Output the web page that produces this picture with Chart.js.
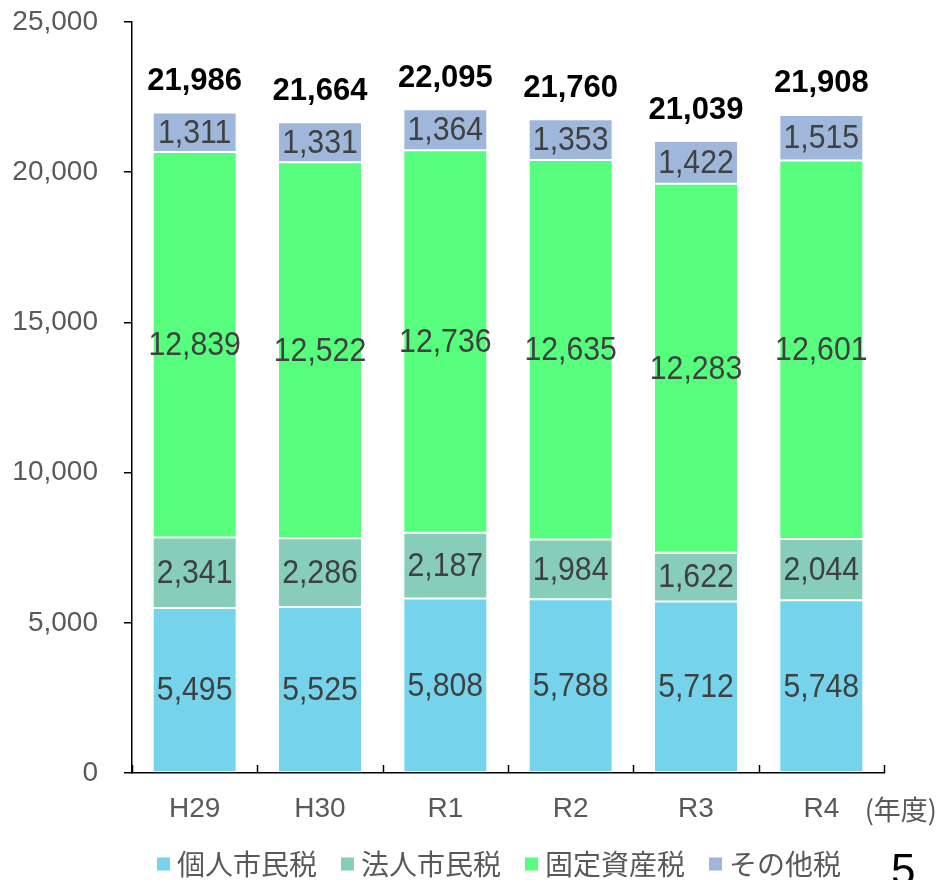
<!DOCTYPE html>
<html lang="ja">
<head>
<meta charset="utf-8">
<script src="https://cdn.jsdelivr.net/npm/chart.js@4.4.0/dist/chart.umd.min.js"></script>
<style>
html, body { margin: 0; padding: 0; background: #fff; }
#wrap { position: relative; width: 939px; height: 880px; }
</style>
</head>
<body>
<div id="wrap"><canvas id="taxChart" width="939" height="880"></canvas></div>
<script>
// datos del gráfico (年度別 市税収入)
const years = ['H29', 'H30', 'R1', 'R2', 'R3', 'R4'];
const kojin = [5495, 5525, 5808, 5788, 5712, 5748];       // 個人市民税
const hojin = [2341, 2286, 2187, 1984, 1622, 2044];       // 法人市民税
const kotei = [12839, 12522, 12736, 12635, 12283, 12601]; // 固定資産税
const sonota = [1311, 1331, 1364, 1353, 1422, 1515];      // その他税
const totals = [21986, 21664, 22095, 21760, 21039, 21908];
const seriesNames = ['個人市民税', '法人市民税', '固定資産税', 'その他税'];
const yTicks = [0, 5000, 10000, 15000, 20000, 25000];

const COLORS = {
    kojin: '#75d4ec',
    hojin: '#86ceb9',
    kotei: '#57fe7d',
    sonota: '#a0b7dc',
    texto: '#404040',
    eje: '#595959'
};

const FONT = '"Liberation Sans", Arial, sans-serif';
const FONT_JP = '"Noto Sans CJK JP", "Noto Sans", sans-serif';

const fmt = v => v.toLocaleString('en-US');

// texto algo comprimido en horizontal, como en el original
function narrowText(ctx, txt, x, y, sx) {
    ctx.save();
    ctx.translate(x, y);
    ctx.scale(sx, 1);
    ctx.fillText(txt, 0, 0);
    ctx.restore();
}

// etiquetas, totales, leyenda y marcas del eje X
const labelPlugin = {
    id: 'labelPlugin',
    afterDatasetsDraw(chart) {
        const ctx = chart.ctx;
        const area = chart.chartArea;
        ctx.save();

        // valores dentro de cada segmento
        ctx.font = '34px ' + FONT;
        ctx.fillStyle = COLORS.texto;
        ctx.textAlign = 'center';
        ctx.textBaseline = 'middle';
        chart.data.datasets.forEach((ds, i) => {
            const meta = chart.getDatasetMeta(i);
            meta.data.forEach((bar, j) => {
                narrowText(ctx, fmt(ds.data[j]), bar.x, (bar.y + bar.base) / 2 + 1, 0.89);
            });
        });

        // totales encima de cada barra
        const lastMeta = chart.getDatasetMeta(chart.data.datasets.length - 1);
        ctx.font = 'bold 31px ' + FONT;
        ctx.fillStyle = '#000';
        lastMeta.data.forEach((bar, j) => {
            ctx.fillText(fmt(totals[j]), bar.x, bar.y - 31);
        });

        // marcas del eje X en los límites de categoría (hacia arriba)
        ctx.strokeStyle = '#000';
        ctx.lineWidth = 1.5;
        const step = (area.right - area.left) / years.length;
        for (let i = 0; i <= years.length; i++) {
            const x = Math.round(area.left + i * step) + 0.5;
            ctx.beginPath();
            ctx.moveTo(x, area.bottom);
            ctx.lineTo(x, area.bottom - 8);
            ctx.stroke();
        }

        // (年度)
        ctx.font = '27px ' + FONT_JP;
        ctx.fillStyle = COLORS.eje;
        ctx.textAlign = 'right';
        ctx.fillText('(年度)', 937, 810);

        // leyenda
        ctx.font = '28px ' + FONT_JP;
        const box = 13, gapIn = 7, gapOut = 24;
        const colors = [COLORS.kojin, COLORS.hojin, COLORS.kotei, COLORS.sonota];
        const widths = seriesNames.map(n => box + gapIn + ctx.measureText(n).width);
        const total = widths.reduce((a, b) => a + b, 0) + gapOut * (seriesNames.length - 1);
        let x = 499 - total / 2;
        const ly = 864;
        ctx.textAlign = 'left';
        seriesNames.forEach((n, i) => {
            ctx.fillStyle = colors[i];
            ctx.fillRect(x, ly - box / 2, box, box);
            ctx.fillStyle = COLORS.eje;
            ctx.fillText(n, x + box + gapIn, ly);
            x += widths[i] + gapOut;
        });

        // número de página
        ctx.font = '44px ' + FONT;
        ctx.fillStyle = '#000';
        ctx.textBaseline = 'alphabetic';
        ctx.fillText('5', 891, 885);

        ctx.restore();
    }
};

function makeDataset(label, data, color) {
    return {
        label: label,
        data: data,
        backgroundColor: color,
        borderColor: '#ffffff',
        borderWidth: 1,
        borderSkipped: false,
        categoryPercentage: 1,
        barPercentage: 0.67
    };
}

new Chart(document.getElementById('taxChart').getContext('2d'), {
    type: 'bar',
    data: {
        labels: years,
        datasets: [
            makeDataset(seriesNames[0], kojin, COLORS.kojin),
            makeDataset(seriesNames[1], hojin, COLORS.hojin),
            makeDataset(seriesNames[2], kotei, COLORS.kotei),
            makeDataset(seriesNames[3], sonota, COLORS.sonota)
        ]
    },
    options: {
        responsive: false,
        animation: false,
        layout: { padding: { top: 22, right: 55, bottom: 0, left: 0 } },
        plugins: {
            legend: { display: false },
            tooltip: { enabled: false }
        },
        scales: {
            x: {
                stacked: true,
                offset: true,
                grid: { display: false, drawTicks: false },
                border: { display: true, color: '#000', width: 1.5 },
                ticks: {
                    color: COLORS.eje,
                    font: { family: FONT, size: 28 },
                    padding: 19
                },
                afterFit: scale => {
                    scale.height = 107;
                    scale.paddingLeft = 0;
                    scale.paddingRight = 0;
                }
            },
            y: {
                stacked: true,
                min: yTicks[0],
                max: yTicks[yTicks.length - 1],
                afterBuildTicks: scale => { scale.ticks = yTicks.map(v => ({ value: v })); },
                ticks: {
                    color: COLORS.eje,
                    font: { family: FONT, size: 28 },
                    padding: 26,
                    callback: v => fmt(v)
                },
                grid: {
                    drawOnChartArea: false,
                    drawTicks: true,
                    tickLength: 8,
                    color: '#000',
                    lineWidth: 1.5
                },
                border: { display: true, color: '#000', width: 1.5 },
                afterFit: scale => {
                    scale.width = 132;
                    scale.paddingTop = 0;
                    scale.paddingBottom = 0;
                }
            }
        }
    },
    plugins: [labelPlugin]
});
</script>
</body>
</html>
